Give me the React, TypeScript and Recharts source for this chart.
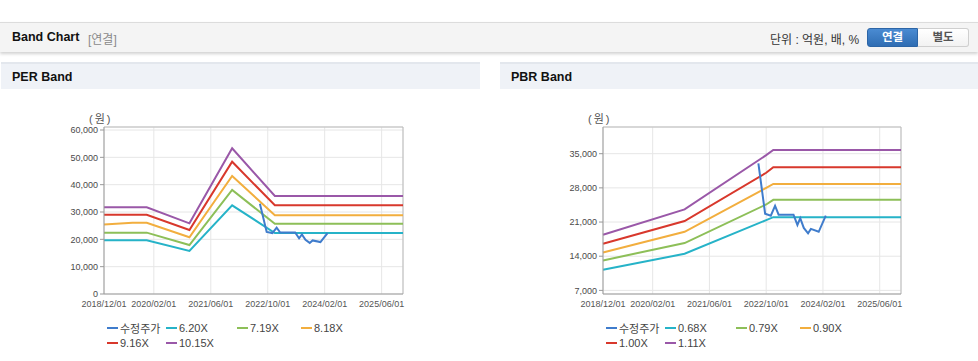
import { LineChart, Line, XAxis, YAxis, CartesianGrid, ReferenceLine } from "recharts";

// months counted from 2018/12/01
const X_TICKS = [0, 14, 30, 46, 62, 78];
const X_LABELS = ["2018/12/01", "2020/02/01", "2021/06/01", "2022/10/01", "2024/02/01", "2025/06/01"];

const PRICE_MONTHS = [43.8, 45.7, 47.3, 48.5, 49.5, 53.7, 54.8, 55.6, 56.6, 57.8, 58.6, 60.8, 62.8];
const PRICE = [33000, 22700, 22300, 24300, 22500, 22500, 20400, 21800, 19800, 18700, 19600, 19000, 22300];

const PER_MONTHS = [0, 8, 12, 24, 36, 48, 84];
const PER_620 = [19650, 19650, 19650, 15730, 32450, 22300, 22300];
const PER_719 = [22450, 22450, 22450, 17930, 38050, 25700, 25700];
const PER_818 = [25400, 26050, 26050, 20740, 43170, 28850, 28850];
const PER_916 = [29000, 29000, 29000, 23410, 48400, 32450, 32450];
const PER_1015 = [31750, 31750, 31750, 25860, 53300, 35900, 35900];
const PER_Y_TICKS = [0, 10000, 20000, 30000, 40000, 50000, 60000];

const PBR_MONTHS = [0, 23, 46, 48, 84];
const PBR_068 = [11240, 14500, 21400, 22000, 22000];
const PBR_079 = [13140, 16700, 24600, 25550, 25550];
const PBR_090 = [14780, 19000, 28000, 28800, 28800];
const PBR_100 = [16560, 21200, 31100, 32250, 32250];
const PBR_111 = [18400, 23600, 34700, 35750, 35750];
const PBR_Y_TICKS = [7000, 14000, 21000, 28000, 35000];

const COLORS = ["#3f7ccc", "#26b3c8", "#8dbf58", "#f2ae3e", "#d8382c", "#9a58a8"];
const FONT = '"Liberation Sans", Arial, "Noto Sans CJK KR", sans-serif';

const rows = (months: number[], values: number[]) => months.map((m, i) => ({ m, v: values[i] }));

interface Series {
  name: string;
  data: { m: number; v: number }[];
}

function BandPanel({
  left,
  width,
  title,
  series,
  yTicks,
  yDomain,
}: {
  left: number;
  width: number;
  title: string;
  series: Series[];
  yTicks: number[];
  yDomain: [number, number];
}) {
  const axisW = 103;
  const cols = [0, 59, 130, 194];
  return (
    <>
      <div
        style={{
          position: "absolute",
          left,
          top: 62,
          width,
          height: 27,
          background: "#eff2f7",
          borderTop: "2px solid #e3e7ed",
          fontFamily: FONT,
          fontWeight: "bold",
          fontSize: 12.5,
          lineHeight: "27px",
          color: "#111",
          paddingLeft: 11,
          boxSizing: "border-box",
        }}
      >
        {title}
      </div>
      <div
        style={{
          position: "absolute",
          left: left + 88,
          top: 110,
          fontSize: 11,
          color: "#555",
          fontFamily: FONT,
          letterSpacing: 2,
        }}
      >
        (원)
      </div>
      <div style={{ position: "absolute", left, top: 100 }}>
        <LineChart width={width} height={212} margin={{ top: 27, right: 77, left: 0, bottom: 0 }}>
          <CartesianGrid stroke="#e6e6e6" />
          <XAxis
            type="number"
            dataKey="m"
            domain={[0, 84]}
            ticks={X_TICKS}
            tickFormatter={(v: number) => X_LABELS[X_TICKS.indexOf(v)]}
            tick={{ fill: "#555", fontSize: 9, fontFamily: FONT }}
            tickLine={false}
            tickSize={3}
            tickMargin={4}
            axisLine={{ stroke: "#999" }}
            height={18}
            interval={0}
          />
          <YAxis
            type="number"
            domain={yDomain}
            ticks={yTicks}
            allowDataOverflow
            tickFormatter={(v: number) => v.toLocaleString("en-US")}
            tick={{ fill: "#4a4a4a", fontSize: 9, fontFamily: FONT }}
            tickLine={{ stroke: "#999" }}
            tickSize={4}
            tickMargin={2}
            axisLine={{ stroke: "#999" }}
            width={axisW}
            interval={0}
          />
          <ReferenceLine x={84} stroke="#bbb" />
          <ReferenceLine y={yDomain[1]} stroke="#bbb" />
          {series
            .slice()
            .reverse()
            .map((s, ri) => {
              const i = series.length - 1 - ri;
              return (
                <Line
                  key={s.name}
                  data={s.data}
                  dataKey="v"
                  name={s.name}
                  type="linear"
                  stroke={COLORS[i]}
                  strokeWidth={2}
                  dot={false}
                  isAnimationActive={false}
                />
              );
            })}
        </LineChart>
      </div>
      <div style={{ position: "absolute", left: left + axisW + 3, top: 320, width: 300, fontFamily: FONT, color: "#444" }}>
        {series.map((s, i) => (
          <div
            key={s.name}
            style={{
              position: "absolute",
              left: cols[i % 4],
              top: Math.floor(i / 4) * 15,
              display: "flex",
              alignItems: "center",
              fontSize: 11,
              height: 16,
              whiteSpace: "nowrap",
            }}
          >
            <span style={{ display: "inline-block", width: 11, height: 2, background: COLORS[i], marginRight: 2 }} />
            {s.name}
          </div>
        ))}
      </div>
    </>
  );
}

export default function App() {
  const perSeries: Series[] = [
    { name: "수정주가", data: rows(PRICE_MONTHS, PRICE) },
    { name: "6.20X", data: rows(PER_MONTHS, PER_620) },
    { name: "7.19X", data: rows(PER_MONTHS, PER_719) },
    { name: "8.18X", data: rows(PER_MONTHS, PER_818) },
    { name: "9.16X", data: rows(PER_MONTHS, PER_916) },
    { name: "10.15X", data: rows(PER_MONTHS, PER_1015) },
  ];
  const pbrSeries: Series[] = [
    { name: "수정주가", data: rows(PRICE_MONTHS, PRICE) },
    { name: "0.68X", data: rows(PBR_MONTHS, PBR_068) },
    { name: "0.79X", data: rows(PBR_MONTHS, PBR_079) },
    { name: "0.90X", data: rows(PBR_MONTHS, PBR_090) },
    { name: "1.00X", data: rows(PBR_MONTHS, PBR_100) },
    { name: "1.11X", data: rows(PBR_MONTHS, PBR_111) },
  ];

  return (
    <div
      style={{
        position: "absolute",
        left: 0,
        top: 0,
        width: 978,
        height: 361,
        background: "#fff",
        overflow: "hidden",
        fontFamily: FONT,
      }}
    >
      <div
        style={{
          position: "absolute",
          left: 0,
          top: 22,
          width: 978,
          height: 30,
          background: "#f4f4f4",
          borderTop: "1px solid #dcdcdc",
          boxShadow: "0 2px 3px rgba(0,0,0,0.18)",
          boxSizing: "border-box",
        }}
      >
        <span style={{ position: "absolute", left: 12, top: 7, fontWeight: "bold", fontSize: 12.5, color: "#111" }}>
          Band Chart
        </span>
        <span style={{ position: "absolute", left: 88, top: 7, fontSize: 12, color: "#8a8a8a" }}>[연결]</span>
        <span style={{ position: "absolute", left: 770, top: 7, fontSize: 12, color: "#333" }}>단위 : 억원, 배, %</span>
        <div
          style={{
            position: "absolute",
            left: 867,
            top: 5,
            width: 51,
            height: 19,
            background: "linear-gradient(#4a8bd2, #2f6db3)",
            border: "1px solid #2c65a6",
            borderRadius: "3px 0 0 3px",
            boxSizing: "border-box",
            color: "#fff",
            fontWeight: "bold",
            fontSize: 11.5,
            textAlign: "center",
            lineHeight: "17px",
          }}
        >
          연결
        </div>
        <div
          style={{
            position: "absolute",
            left: 918,
            top: 5,
            width: 51,
            height: 19,
            background: "linear-gradient(#ffffff, #f2f2f2)",
            border: "1px solid #cfcfcf",
            borderLeft: "none",
            borderRadius: "0 3px 3px 0",
            boxSizing: "border-box",
            color: "#555",
            fontWeight: "bold",
            fontSize: 11.5,
            textAlign: "center",
            lineHeight: "17px",
          }}
        >
          별도
        </div>
      </div>
      <BandPanel left={1} width={479} title="PER Band" series={perSeries} yTicks={PER_Y_TICKS} yDomain={[0, 61100]} />
      <BandPanel left={500} width={478} title="PBR Band" series={pbrSeries} yTicks={PBR_Y_TICKS} yDomain={[6260, 40470]} />
    </div>
  );
}
